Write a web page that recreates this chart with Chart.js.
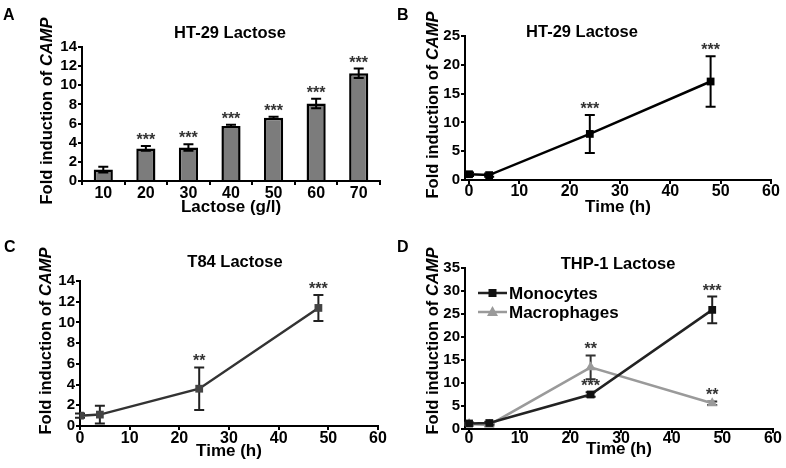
<!DOCTYPE html>
<html>
<head>
<meta charset="utf-8">
<script src="https://cdn.jsdelivr.net/npm/chart.js@4.4.1/dist/chart.umd.min.js"></script>
<style>
  body { margin: 0; background: #fff; }
  #fig { position: relative; width: 786px; height: 468px; overflow: hidden; }
  .panel { position: absolute; width: 393px; height: 234px; }
  canvas { display: block; }
</style>
</head>
<body>
<div id="fig">
  <div class="panel" style="left:0;top:0"><canvas id="chartA" width="393" height="234"></canvas></div>
  <div class="panel" style="left:393px;top:0"><canvas id="chartB" width="393" height="234"></canvas></div>
  <div class="panel" style="left:0;top:234px"><canvas id="chartC" width="393" height="234"></canvas></div>
  <div class="panel" style="left:393px;top:234px"><canvas id="chartD" width="393" height="234"></canvas></div>
</div>
<script>
// --- data ---
const lactoseLabels = ['10', '20', '30', '40', '50', '60', '70'];
const lactoseFold = [1.2, 3.4, 3.5, 5.75, 6.6, 8.1, 11.25];
const lactoseErr = [0.3, 0.25, 0.35, 0.12, 0.12, 0.5, 0.5];
const lactoseStars = ['', '***', '***', '***', '***', '***', '***'];

const timeHours = [0, 4, 24, 48];
const timeTicks = [0, 10, 20, 30, 40, 50, 60];

const ht29Fold = [1.0, 0.85, 8.0, 17.1];
const ht29Err = [0.3, 0.3, 3.3, 4.4];
const ht29Stars = ['', '', '***', '***'];

const t84Fold = [1.0, 1.1, 3.6, 11.4];
const t84Err = [0.2, 0.85, 2.05, 1.25];
const t84Stars = ['', '', '**', '***'];

const monoFold = [1.2, 1.3, 7.5, 25.9];
const monoErr = [0.2, 0.3, 0.5, 2.9];
const monoStars = ['', '', '***', '***'];

const macroFold = [1.1, 0.9, 13.4, 5.6];
const macroErr = [0.2, 0.2, 2.6, 0.4];
const macroStars = ['', '', '**', '**'];

const FONT = "'Liberation Sans', Arial, sans-serif";
Chart.defaults.font.family = FONT;
Chart.defaults.color = '#000';

function valueOf(d) {
  return typeof d === 'object' ? d.y : d;
}

function drawErrors(chart) {
  const ctx = chart.ctx;
  const yScale = chart.scales.y;
  chart.data.datasets.forEach((ds, i) => {
    if (!ds.errors) return;
    const meta = chart.getDatasetMeta(i);
    ctx.save();
    ctx.strokeStyle = ds.errorColor || '#000';
    ctx.lineWidth = 2;
    meta.data.forEach((el, j) => {
      const x = el.x;
      const v = valueOf(ds.data[j]);
      const hi = yScale.getPixelForValue(v + ds.errors[j]);
      const lo = yScale.getPixelForValue(v - ds.errors[j]);
      ctx.beginPath();
      ctx.moveTo(x, hi); ctx.lineTo(x, lo);
      ctx.moveTo(x - 5, hi); ctx.lineTo(x + 5, hi);
      ctx.moveTo(x - 5, lo); ctx.lineTo(x + 5, lo);
      ctx.stroke();
    });
    ctx.restore();
  });
}

function drawStars(chart) {
  const ctx = chart.ctx;
  const yScale = chart.scales.y;
  ctx.save();
  ctx.font = 'bold 16px ' + FONT;
  ctx.fillStyle = '#333';
  ctx.textAlign = 'center';
  ctx.textBaseline = 'alphabetic';
  chart.data.datasets.forEach((ds, i) => {
    if (!ds.stars) return;
    const meta = chart.getDatasetMeta(i);
    meta.data.forEach((el, j) => {
      if (!ds.stars[j]) return;
      const top = yScale.getPixelForValue(valueOf(ds.data[j]) + ds.errors[j]);
      ctx.fillText(ds.stars[j], el.x, top - 1);
    });
  });
  ctx.restore();
}

function drawMarker(ctx, style, x, y, color) {
  ctx.fillStyle = color;
  ctx.beginPath();
  if (style === 'triangle') {
    ctx.moveTo(x, y - 6); ctx.lineTo(x + 5.5, y + 4); ctx.lineTo(x - 5.5, y + 4);
  } else {
    ctx.rect(x - 4, y - 4, 8, 8);
  }
  ctx.fill();
}

const panelDeco = {
  id: 'panelDeco',
  beforeDatasetsDraw(chart, args, o) { if (!o.errorsOnTop) drawErrors(chart); },
  afterDatasetsDraw(chart, args, o) {
    if (o.errorsOnTop) drawErrors(chart);
    drawStars(chart);
  },
  afterDraw(chart, args, o) {
    const ctx = chart.ctx;
    ctx.save();
    ctx.fillStyle = '#000';
    // panel letter
    ctx.font = 'bold 16px ' + FONT;
    ctx.textAlign = 'left';
    ctx.textBaseline = 'alphabetic';
    ctx.fillText(o.letter, o.letterX, o.letterY);
    // panel title
    ctx.font = 'bold 16.5px ' + FONT;
    ctx.textAlign = 'center';
    ctx.textBaseline = 'middle';
    ctx.fillText(o.title, o.titleX, o.titleY);
    // y axis title with italic gene name
    ctx.translate(o.yTitleX, o.yTitleY);
    ctx.rotate(-Math.PI / 2);
    const partA = 'Fold induction of ';
    const partB = 'CAMP';
    ctx.font = 'bold 16.5px ' + FONT;
    const wA = ctx.measureText(partA).width;
    ctx.font = 'italic bold 16.5px ' + FONT;
    const wB = ctx.measureText(partB).width;
    ctx.textAlign = 'left';
    ctx.font = 'bold 16.5px ' + FONT;
    ctx.fillText(partA, -(wA + wB) / 2, 0);
    ctx.font = 'italic bold 16.5px ' + FONT;
    ctx.fillText(partB, -(wA + wB) / 2 + wA, 0);
    ctx.restore();
    // legend inside plot
    if (o.legend) {
      ctx.save();
      ctx.font = 'bold 17px ' + FONT;
      ctx.textBaseline = 'middle';
      chart.data.datasets.forEach((ds, i) => {
        const y = o.legend.y + i * o.legend.gap;
        const x0 = o.legend.x;
        ctx.strokeStyle = ds.borderColor;
        ctx.lineWidth = 2.5;
        ctx.beginPath();
        ctx.moveTo(x0, y); ctx.lineTo(x0 + 29, y);
        ctx.stroke();
        drawMarker(ctx, ds.pointStyle, x0 + 14.5, y, ds.pointBackgroundColor);
        ctx.fillStyle = '#000';
        ctx.fillText(ds.label, x0 + 31, y + 1);
      });
      ctx.restore();
    }
  }
};

function yAxis(max, step, width) {
  return {
    min: 0, max: max,
    ticks: { stepSize: step, autoSkip: false, font: { size: 15, weight: 'bold' }, color: '#000', padding: 1 },
    grid: { drawOnChartArea: false, drawTicks: true, tickLength: 4, color: '#000', lineWidth: 2 },
    border: { color: '#000', width: 2 },
    afterFit(s) { s.width = width; }
  };
}

function timeAxis(min, height, tickPad, titlePad) {
  return {
    type: 'linear', min: min, max: 60,
    afterBuildTicks(s) { s.ticks = timeTicks.map(v => ({ value: v })); },
    ticks: { autoSkip: false, font: { size: 16, weight: 'bold' }, color: '#000', padding: tickPad },
    grid: { drawOnChartArea: false, drawTicks: true, tickLength: 4, color: '#000', lineWidth: 2 },
    border: { color: '#000', width: 2 },
    title: { display: true, text: 'Time (h)', font: { size: 17, weight: 'bold' }, color: '#000', padding: { top: 0, bottom: titlePad } },
    afterFit(s) { s.height = height; }
  };
}

const baseOpts = {
  responsive: false,
  animation: false,
  plugins: { legend: { display: false }, tooltip: { enabled: false } }
};

// A: bar chart
new Chart(document.getElementById('chartA'), {
  type: 'bar',
  data: {
    labels: lactoseLabels,
    datasets: [{
      data: lactoseFold, errors: lactoseErr, stars: lactoseStars,
      backgroundColor: '#7c7c7c', borderColor: '#000', borderWidth: 2.5,
      categoryPercentage: 1, barPercentage: 0.45
    }]
  },
  options: {
    ...baseOpts,
    layout: { padding: { left: 0, right: 13, top: 47, bottom: 0 } },
    scales: {
      x: {
        ticks: { font: { size: 16, weight: 'bold' }, color: '#000', padding: -1 },
        grid: { drawOnChartArea: false, drawTicks: true, tickLength: 4, color: '#000', lineWidth: 2 },
        border: { color: '#000', width: 2 },
        title: { display: true, text: 'Lactose (g/l)', font: { size: 17, weight: 'bold' }, color: '#000', padding: { top: 0, bottom: 16 } },
        afterFit(s) { s.height = 53; }
      },
      y: yAxis(14, 2, 82)
    },
    plugins: {
      ...baseOpts.plugins,
      panelDeco: { letter: 'A', letterX: 3, letterY: 20, title: 'HT-29 Lactose', titleX: 230, titleY: 33, yTitleX: 47, yTitleY: 111, errorsOnTop: true }
    }
  },
  plugins: [panelDeco]
});

// B: HT-29 time course
new Chart(document.getElementById('chartB'), {
  type: 'line',
  data: {
    datasets: [{
      data: ht29Fold.map((v, i) => ({ x: timeHours[i], y: v })),
      errors: ht29Err, stars: ht29Stars, errorColor: '#000',
      borderColor: '#000', borderWidth: 2.5, tension: 0,
      pointStyle: 'rect', pointRadius: 5.5, pointBackgroundColor: '#000', pointBorderWidth: 0
    }]
  },
  options: {
    ...baseOpts,
    layout: { padding: { left: 0, right: 15, top: 36, bottom: 0 } },
    scales: { x: timeAxis(-0.8, 54, -2, 16), y: yAxis(25, 5, 72) },
    plugins: {
      ...baseOpts.plugins,
      panelDeco: { letter: 'B', letterX: 4, letterY: 20, title: 'HT-29 Lactose', titleX: 189, titleY: 32, yTitleX: 40, yTitleY: 105 }
    }
  },
  plugins: [panelDeco]
});

// C: T84 time course
new Chart(document.getElementById('chartC'), {
  type: 'line',
  data: {
    datasets: [{
      data: t84Fold.map((v, i) => ({ x: timeHours[i], y: v })),
      errors: t84Err, stars: t84Stars, errorColor: '#222',
      borderColor: '#333', borderWidth: 2.5, tension: 0,
      pointStyle: 'rect', pointRadius: 5.5, pointBackgroundColor: '#444', pointBorderWidth: 0
    }]
  },
  options: {
    ...baseOpts,
    layout: { padding: { left: 0, right: 15, top: 47, bottom: 0 } },
    scales: { x: timeAxis(0, 42, -1, 6), y: yAxis(14, 2, 80) },
    plugins: {
      ...baseOpts.plugins,
      panelDeco: { letter: 'C', letterX: 4, letterY: 18, title: 'T84 Lactose', titleX: 235, titleY: 28, yTitleX: 46, yTitleY: 107 }
    }
  },
  plugins: [panelDeco]
});

// D: THP-1 monocytes vs macrophages
new Chart(document.getElementById('chartD'), {
  type: 'line',
  data: {
    datasets: [{
      label: 'Monocytes',
      data: monoFold.map((v, i) => ({ x: timeHours[i], y: v })),
      errors: monoErr, stars: monoStars, errorColor: '#222',
      borderColor: '#222', borderWidth: 2.5, tension: 0,
      pointStyle: 'rect', pointRadius: 5.5, pointBackgroundColor: '#111', pointBorderWidth: 0
    }, {
      label: 'Macrophages',
      data: macroFold.map((v, i) => ({ x: timeHours[i], y: v })),
      errors: macroErr, stars: macroStars, errorColor: '#333',
      borderColor: '#9a9a9a', borderWidth: 2.5, tension: 0,
      pointStyle: 'triangle', pointRadius: 6, pointBackgroundColor: '#9a9a9a', pointBorderWidth: 0
    }]
  },
  options: {
    ...baseOpts,
    layout: { padding: { left: 0, right: 13, top: 34, bottom: 0 } },
    scales: { x: timeAxis(-0.8, 39, -4, 8), y: yAxis(35, 5, 72) },
    plugins: {
      ...baseOpts.plugins,
      panelDeco: { letter: 'D', letterX: 4, letterY: 18, title: 'THP-1 Lactose', titleX: 225, titleY: 30, yTitleX: 40, yTitleY: 107,
        legend: { x: 85, y: 59, gap: 19 } }
    }
  },
  plugins: [panelDeco]
});
</script>
</body>
</html>
